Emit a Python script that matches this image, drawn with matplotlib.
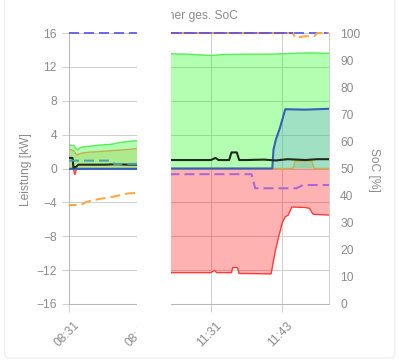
import numpy as np
import matplotlib
matplotlib.use('Agg')
import matplotlib.pyplot as plt
from matplotlib.patches import Rectangle, FancyBboxPatch
from matplotlib.transforms import ScaledTranslation

plt.rcParams['font.family'] = ['Liberation Sans', 'DejaVu Sans']
nan = np.nan

# ---- data (x = time-slot index of the category axis) ----
tick_pos = [0, 12, 24, 36]
tick_labels = ["08:31", "08:43", "11:31", "11:43"]

pv_x = [0, 0.8, 1.4, 2, 3, 5, 7, 8.5, 10, 12, 14.5, 17, 20, 24, 26, 30, 34, 38, 41, 44]
pv_y = [2.8, 2.7, 2.2, 2.5, 2.6, 2.75, 2.85, 3.05, 3.2, 3.3, nan, 13.55, 13.5, 13.35, 13.45, 13.5, 13.5, 13.6, 13.65, 13.6]

olive_x = [0, 0.8, 1.3, 2, 3, 5, 8, 10, 12, 14.5, 17, 37.9, 38.3, 41.1, 41.5, 44]
olive_y = [2.3, 2.1, 1.6, 1.8, 1.9, 2.0, 2.15, 2.25, 2.4, nan, 0, 0, 0.9, 0.9, 0, 0]

grid_x = [0, 0.7, 1.0, 1.3, 12, 14.5, 17, 24, 24.6, 25, 27.5, 27.7, 28.5, 28.8, 30, 34.2, 34.9,
          35.4, 36.1, 36.6, 37.1, 37.7, 39.9, 40.7, 41.3, 44]
grid_y = [0, 0, -0.7, 0, 0, nan, -12.3, -12.3, -12.05, -12.3, -12.3, -11.7, -11.7, -12.4, -12.4,
          -12.45, -9.8, -8.3, -6.4, -5.7, -5.5, -4.55, -4.6, -4.7, -5.4, -5.5]

house_x = [0, 0.6, 0.75, 1.2, 1.6, 3, 6, 8, 10, 12, 14.5, 17, 24, 24.8, 25.3, 27.1, 27.5, 28.4,
           28.8, 30, 33, 35, 37, 40, 42, 44]
house_y = [1.25, 1.25, 0.1, 0.2, 0.45, 0.45, 0.45, 0.5, 0.45, 0.45, nan, 1.0, 1.0, 1.25, 1.0, 1.0,
           1.9, 1.9, 1.0, 1.0, 1.05, 0.95, 1.1, 1.0, 1.1, 1.1]

bat_x = [0, 12, 14.5, 17, 34.4, 34.6, 35.0, 35.7, 36.6, 40, 44]
bat_y = [-0.05, -0.05, nan, 0, 0, 2.2, 3.4, 4.8, 7.0, 6.95, 7.05]

soc_blue_x = [0, 44]
soc_blue_y = [100, 100]
soc_orange_x = [0, 2, 3, 5, 7.5, 10, 11.5, 12, 14.5, 17, 37.9, 38.3, 39, 40, 41.5, 42, 44]
soc_orange_y = [36.5, 36.6, 37.7, 38.7, 39.6, 40.8, 41.0, 41.0, nan, 100, 100, 98.2, 98.5, 98.8, 98.8, 100, 100]
soc_purple_x = [17, 37.9]
soc_purple_y = [100, 100]
soc_violet_x = [17, 30.9, 31.5, 38.5, 39.6, 44]
soc_violet_y = [47.9, 47.9, 42.7, 42.7, 43.9, 43.9]
soc_teal_x = [0, 7.2, 7.6, 12]
soc_teal_y = [52.9, 52.9, 51.7, 51.7]

# ---- styling ----
W, H = 399, 362
txt = '#8c8c8c'
gridc = '#d0d0d0'
fs = 8.64
dash = (0, (5, 2.5))

fig = plt.figure(figsize=(W / 100, H / 100), dpi=100)
fig.patch.set_facecolor('white')
card = FancyBboxPatch((0.045, 0.04), 3.905, 3.8, boxstyle='round,pad=0,rounding_size=0.05',
                      transform=fig.dpi_scale_trans, facecolor='white', edgecolor='#ececec',
                      lw=0.8, zorder=-1)
fig.add_artist(card)

ax = fig.add_axes([69 / W, (H - 304) / H, 260 / W, 271 / H])
ax.set_facecolor('none')
ax.set_xlim(0, 44)
ax.set_ylim(-16, 16)
ax.set_yticks(np.arange(-16, 17, 4))
ax.set_xticks(tick_pos)
ax.set_xticklabels(tick_labels)
ax.set_axisbelow(True)
ax.grid(True, color=gridc, lw=0.75)
ax.spines['top'].set_visible(False)
ax.spines['left'].set_color('#b8b8b8')
ax.spines['bottom'].set_color('#b8b8b8')
ax.spines['right'].set_color(gridc)
for s in ax.spines.values():
    s.set_linewidth(0.75)
ax.tick_params(axis='y', length=5, width=0.75, color=gridc, labelcolor=txt, labelsize=fs, pad=3.6)
ax.tick_params(axis='x', length=5.8, width=0.75, color=gridc, labelcolor=txt, labelsize=fs, pad=5.5)
for lab in ax.get_xticklabels():
    lab.set_rotation(45)
    lab.set_ha('right')
    lab.set_va('top')
    lab.set_rotation_mode('anchor')
    lab.set_transform(lab.get_transform() + ScaledTranslation(5 / 100, 0, fig.dpi_scale_trans))

# fills
ax.fill_between(pv_x, 0, pv_y, color=(0, 1, 0, 0.3), lw=0, zorder=1)
ax.fill_between(grid_x, 0, grid_y, color=(1, 0, 0, 0.3), lw=0, zorder=1)
ax.fill_between(olive_x, 0, olive_y, color=(0.6, 0.6, 0, 0.2), lw=0, zorder=1)
ax.fill_between(bat_x, 0, bat_y, color=(103 / 255, 139 / 255, 243 / 255, 0.25), lw=0, zorder=1)

# lines
ax.plot(olive_x, olive_y, color='#c2b24a', lw=1.0, zorder=2)
ax.plot(pv_x, pv_y, color='#55ee55', lw=1.0, zorder=2)
ax.plot(grid_x, grid_y, color='#ff3b3b', lw=1.0, zorder=2)
ax.plot(bat_x, bat_y, color='#3562b8', lw=1.5, zorder=3)
ax.plot(house_x, house_y, color='#1f2a1f', lw=1.5, zorder=3)

ax2 = ax.twinx()
ax2.set_ylim(0, 100)
ax2.set_yticks(np.arange(0, 101, 10))
for s in ax2.spines.values():
    s.set_visible(False)
ax2.tick_params(axis='y', length=0, labelcolor=txt, labelsize=fs, pad=8)
ax2.plot(soc_blue_x, soc_blue_y, color='#6b6bef', lw=1.44, ls=dash, zorder=2, clip_on=False)
ax2.plot(soc_orange_x, soc_orange_y, color='#ffa640', lw=1.44, ls=(1.2, (5, 2.5)), zorder=2, clip_on=False)
ax2.plot(soc_purple_x, soc_purple_y, color='#7b55c0', lw=1.44, ls=dash, zorder=3, clip_on=False)
ax2.plot(soc_violet_x, soc_violet_y, color='#a866d8', lw=1.44, ls=dash, zorder=3)
ax2.plot(soc_teal_x, soc_teal_y, color='#4aa0a8', lw=1.44, ls=dash, zorder=3)

fig.text(26 / W, 1 - 170 / H, 'Leistung [kW]', rotation=90, ha='center', va='center',
         color=txt, fontsize=fs)
fig.text(374 / W, 1 - 170 / H, 'SoC [%]', rotation=-90, ha='center', va='center',
         color=txt, fontsize=fs)
fig.text(238 / W, 1 - 16 / H, 'Speicher ges. SoC', ha='right', va='center', color=txt, fontsize=fs)

# white band covering part of the chart
fig.add_artist(Rectangle((137 / W, 8 / H), 34 / W, 1 - 8 / H, transform=fig.transFigure,
                         facecolor='white', edgecolor='none', zorder=10))

fig.savefig('out.png', dpi=100, facecolor='white')
